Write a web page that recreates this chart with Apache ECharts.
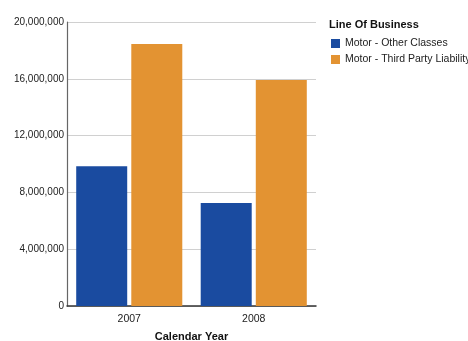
<!DOCTYPE html>
<html><head><meta charset="utf-8">
<script src="https://cdn.jsdelivr.net/npm/echarts@6/dist/echarts.min.js"></script>
<style>html,body{margin:0;padding:0;background:#fff}#c{width:468px;height:341px}</style>
</head><body><div id="c"></div>
<script>
const categories = ['2007', '2008'];
const otherClasses = [9850000, 7250000];
const thirdParty = [18450000, 15920000];
const seriesNames = ['Motor - Other Classes', 'Motor - Third Party Liability'];
const yTicks = [0, 4000000, 8000000, 12000000, 16000000, 20000000];

const chart = echarts.init(document.getElementById('c'));
const font = 'Liberation Sans';
chart.setOption({
  animation: false,
  grid: {left: 67, right: 152, top: 22, bottom: 35, containLabel: false, outerBoundsMode: 'none'},
  graphic: [{type: 'text', left: 329, top: 19, style: {text: 'Line Of Business', font: 'bold 11px "Liberation Sans"', fill: '#111'}}],
  legend: {
    orient: 'vertical', left: 326, top: 33, itemWidth: 9, itemHeight: 9, itemGap: 5,
    icon: 'rect', textStyle: {fontFamily: font, fontSize: 10.5, color: '#222'},
    data: seriesNames
  },
  xAxis: {
    type: 'category', data: categories,
    name: 'Calendar Year', nameLocation: 'middle', nameGap: 25,
    nameTextStyle: {fontFamily: font, fontSize: 11, fontWeight: 'bold', color: '#111'},
    axisLine: {lineStyle: {color: '#333', width: 1.5}},
    axisTick: {show: false},
    axisLabel: {fontFamily: font, fontSize: 10.5, color: '#222', margin: 8}
  },
  yAxis: {
    type: 'value', min: 0, max: 20000000, interval: 4000000,
    axisLine: {show: true, lineStyle: {color: '#666', width: 1.2}},
    axisTick: {show: false},
    splitLine: {lineStyle: {color: '#d0d0d0'}},
    axisLabel: {fontFamily: font, fontSize: 10, color: '#222', margin: 3,
      formatter: v => yTicks.includes(v) ? v.toLocaleString('en-US') : ''}
  },
  series: [
    {name: seriesNames[0], type: 'bar', data: otherClasses, itemStyle: {color: '#1a4ba0'}, barWidth: 51, barGap: '8%'},
    {name: seriesNames[1], type: 'bar', data: thirdParty, itemStyle: {color: '#e39332'}, barWidth: 51}
  ]
});
</script></body></html>
